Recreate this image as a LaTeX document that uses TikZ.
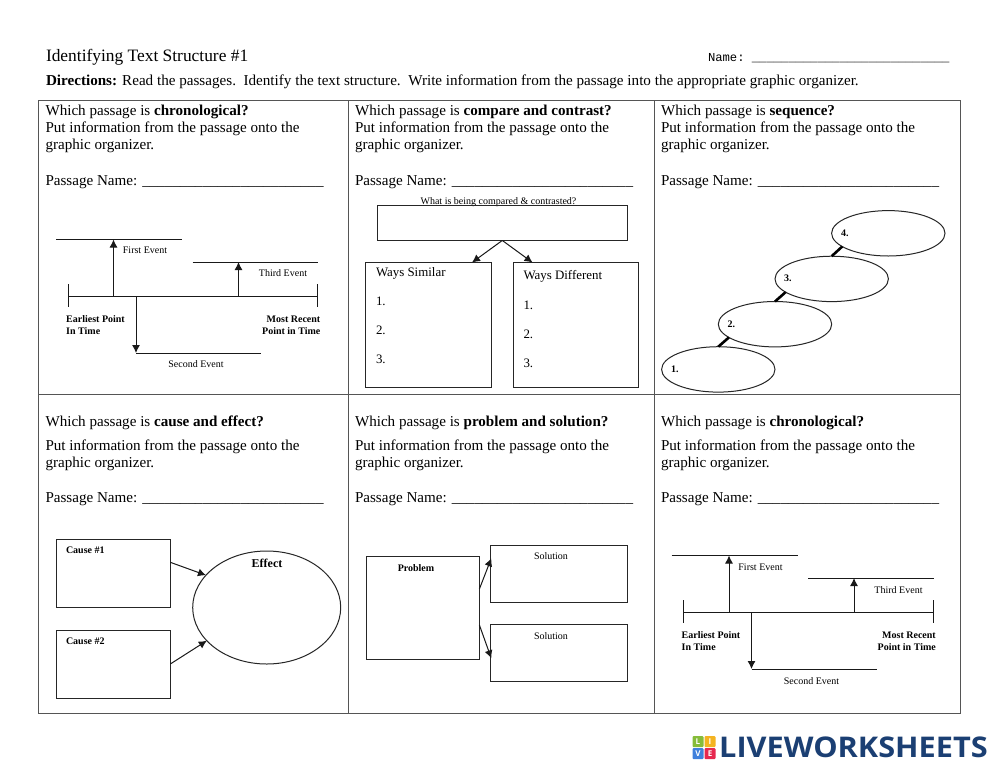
\documentclass[tikz,border=0pt]{standalone}
\usepackage{fontspec}
\setmainfont{Liberation Serif}
\setmonofont{Liberation Mono}
\newfontfamily\logofont{Open Sans}
\usetikzlibrary{arrows.meta,shapes.geometric}
\definecolor{logoblue}{HTML}{1B3F73}
\definecolor{gridgrey}{HTML}{555555}
\definecolor{lgreen}{HTML}{86BC3A}
\definecolor{lyellow}{HTML}{F4B321}
\definecolor{lblue}{HTML}{3F80DC}
\definecolor{lred}{HTML}{E6284F}
\newcommand{\fs}[1]{\fontsize{#1}{#1}\selectfont}
\newcommand{\pname}{Passage Name: \_\_\_\_\_\_\_\_\_\_\_\_\_\_\_\_\_\_\_\_\_\_\_\_}
\tikzset{
  lbl/.style={anchor=base west,inner sep=0pt,outer sep=0pt,font=\fs{15.1}},
  small/.style={anchor=base,inner sep=0pt,font=\fs{10}},
  smallb/.style={anchor=base,inner sep=0pt,font=\fs{10}\bfseries},
  boxlbl/.style={lbl,font=\fs{12.9}},
  gridline/.style={draw=gridgrey,line width=1pt},
  box/.style={draw=black!85,line width=1pt,inner sep=0pt,outer sep=0pt,fill=white},
  oval/.style={ellipse,draw=black!85,line width=1pt,inner sep=0pt,outer sep=0pt},
  line/.style={draw=black!90,line width=1pt},
  arr/.style={draw=black!90,line width=1pt,-{Latex[length=8pt,width=8pt]}},
  link/.style={draw=black,line width=2.6pt},
  logosq/.style={minimum size=11pt,inner sep=0pt,outer sep=0pt,text=white,font=\fs{8}\logofont\bfseries,rounded corners=1pt},
}
\newcommand{\timeline}[4]{%
\begin{scope}[shift={(#2,#3)},name prefix=#1-]
  \coordinate (mL) at (68,296); \coordinate (mR) at (317.5,296);
  \coordinate (tLa) at (68,284); \coordinate (tLb) at (68,307);
  \coordinate (tRa) at (317.5,284); \coordinate (tRb) at (317.5,307);
  \coordinate (aS) at (113.5,296); \coordinate (aE) at (113.5,239.5);
  \coordinate (fL) at (56,239.5); \coordinate (fR) at (182,239.5);
  \coordinate (cS) at (238.5,296); \coordinate (cE) at (238.5,262);
  \coordinate (hL) at (192.5,262); \coordinate (hR) at (318,262);
  \coordinate (bS) at (136,296); \coordinate (bE) at (136,353);
  \coordinate (sR) at (261,353);
  \draw[line] (mL) -- (mR);
  \draw[line] (tLa) -- (tLb);
  \draw[line] (tRa) -- (tRb);
  \draw[line] (fL) -- (fR);
  \draw[line] (hL) -- (hR);
  \draw[line] (bE) -- (sR);
  \draw[arr] (aS) -- (aE);
  \draw[arr] (cS) -- (cE);
  \draw[arr] (bS) -- (bE);
  \node[small] (first) at (145,253+#4) {First Event};
  \node[small] (third) at (283,276+#4) {Third Event};
  \node[small] (second) at (196,367.5+#4) {Second Event};
  \node[smallb,anchor=base west] (earlyA) at (66,322) {Earliest Point};
  \node[smallb,anchor=base west] (earlyB) at (66,334) {In Time};
  \node[smallb,anchor=base east] (recentA) at (320.5,322) {Most Recent};
  \node[smallb,anchor=base east] (recentB) at (320.5,334) {Point in Time};
\end{scope}}
\begin{document}
\begin{tikzpicture}[x=1pt,y=-1pt]
\useasboundingbox (0,0) rectangle (999,772);
\fill[white] (0,0) rectangle (999,772);
% header
\node[lbl,font=\fs{17.4}] (head) at (46,61.5) {Identifying Text Structure \#1};
\node[lbl,font=\fs{12.2}\ttfamily] (nameline) at (708,61) {Name: \_\_\_\_\_\_\_\_\_\_\_\_\_\_\_\_\_\_\_\_\_\_\_\_\_\_\_};
\node[lbl,font=\fs{15.13}] (direct) at (46,85.5) {\textbf{Directions:} Read the passages.\ \ Identify the text structure.\ \ Write information from the passage into the appropriate graphic organizer.};
% grid
\coordinate (gTL) at (38.5,100); \coordinate (gBR) at (960.5,713);
\draw[gridline] (gTL) rectangle (gBR);
\coordinate (v1a) at (348,100); \coordinate (v1b) at (348,713);
\coordinate (v2a) at (654.5,100); \coordinate (v2b) at (654.5,713);
\coordinate (h1a) at (38.5,394.5); \coordinate (h1b) at (960.5,394.5);
\draw[gridline] (v1a) -- (v1b);
\draw[gridline] (v2a) -- (v2b);
\draw[gridline] (h1a) -- (h1b);
% row 1 text
\node[lbl] (a1) at (45.5,115) {Which passage is \textbf{chronological?}};
\node[lbl] (a2) at (45.5,132) {Put information from the passage onto the};
\node[lbl] (a3) at (45.5,149.5) {graphic organizer.};
\node[lbl] (a4) at (45.5,185) {\pname};
\node[lbl] (b1) at (355,115) {Which passage is \textbf{compare and contrast?}};
\node[lbl] (b2) at (355,132) {Put information from the passage onto the};
\node[lbl] (b3) at (355,149.5) {graphic organizer.};
\node[lbl] (b4) at (355,185) {\pname};
\node[lbl] (c1) at (661,115) {Which passage is \textbf{sequence?}};
\node[lbl] (c2) at (661,132) {Put information from the passage onto the};
\node[lbl] (c3) at (661,149.5) {graphic organizer.};
\node[lbl] (c4) at (661,185) {\pname};
% row 2 text
\node[lbl] (d1) at (45.5,426) {Which passage is \textbf{cause and effect?}};
\node[lbl] (d2) at (45.5,450) {Put information from the passage onto the};
\node[lbl] (d3) at (45.5,467) {graphic organizer.};
\node[lbl] (d4) at (45.5,502) {\pname};
\node[lbl] (e1) at (355,426) {Which passage is \textbf{problem and solution?}};
\node[lbl] (e2) at (355,450) {Put information from the passage onto the};
\node[lbl] (e3) at (355,467) {graphic organizer.};
\node[lbl] (e4) at (355,502) {\pname};
\node[lbl] (f1) at (661,426) {Which passage is \textbf{chronological?}};
\node[lbl] (f2) at (661,450) {Put information from the passage onto the};
\node[lbl] (f3) at (661,467) {graphic organizer.};
\node[lbl] (f4) at (661,502) {\pname};
% timelines
\timeline{tla}{0}{0}{0}
\timeline{tlb}{615.5}{316}{1}
% compare and contrast
\node[small] (cmpq) at (498.5,204.5) {What is being compared \& contrasted?};
\node[box,fill=none,minimum width=250pt,minimum height=34.5pt] (cmp) at (502.3,223.2) {};
\node[box,minimum width=125.5pt,minimum height=125pt] (sim) at (428.7,325) {};
\node[box,minimum width=125.5pt,minimum height=125pt] (dif) at (576,325) {};
\coordinate (simT) at (472,262.5);
\coordinate (difT) at (532.5,262.5);
\draw[arr] (cmp.south) -- (simT);
\draw[arr] (cmp.south) -- (difT);
\node[boxlbl] (s0) at (376,276) {Ways Similar};
\node[boxlbl] (s1) at (376,305) {1.};
\node[boxlbl] (s2) at (376,334) {2.};
\node[boxlbl] (s3) at (376,363) {3.};
\node[boxlbl] (t0) at (523.5,279) {Ways Different};
\node[boxlbl] (t1) at (523.5,309) {1.};
\node[boxlbl] (t2) at (523.5,338) {2.};
\node[boxlbl] (t3) at (523.5,367) {3.};
% sequence
\node[oval,minimum width=113.4pt,minimum height=45.4pt] (o4) at (888.3,233.3) {};
\node[oval,minimum width=113.4pt,minimum height=45.4pt] (o3) at (831.7,278.9) {};
\node[oval,minimum width=113.4pt,minimum height=45.4pt] (o2) at (775,324.2) {};
\node[oval,minimum width=113.4pt,minimum height=45.4pt] (o1) at (718.3,369.4) {};
\draw[link] (o4.196) -- (o3.north);
\draw[link] (o3.196) -- (o2.north);
\draw[link] (o2.196) -- (o1.north);
\node[lbl,font=\fs{10}\bfseries] (n4) at (841,236.5) {4.};
\node[lbl,font=\fs{10}\bfseries] (n3) at (784,281.5) {3.};
\node[lbl,font=\fs{10}\bfseries] (n2) at (727.5,327.5) {2.};
\node[lbl,font=\fs{10}\bfseries] (n1) at (671,372.5) {1.};
% cause and effect
\node[box,minimum width=113.6pt,minimum height=68pt] (cz1) at (113.5,573.3) {};
\node[box,minimum width=113.6pt,minimum height=68pt] (cz2) at (113.5,664) {};
\node[oval,minimum width=148pt,minimum height=113pt] (eff) at (266.7,607.5) {};
\coordinate (cz1a) at (170.3,562.3);
\coordinate (cz2a) at (170.3,664);
\draw[arr] (cz1a) -- (eff.152);
\draw[arr] (cz2a) -- (eff.209);
\node[lbl,font=\fs{10}\bfseries] (cz1t) at (66,553.5) {Cause \#1};
\node[lbl,font=\fs{10}\bfseries] (cz2t) at (66,644.5) {Cause \#2};
\node[anchor=base,inner sep=0pt,font=\fs{12}\bfseries] (efft) at (267,567) {Effect};
% problem and solution
\node[box,minimum width=113.4pt,minimum height=102.6pt] (prob) at (422.7,608) {};
\node[box,minimum width=136.6pt,minimum height=57pt] (sol1) at (559,573.8) {};
\node[box,minimum width=136.6pt,minimum height=57pt] (sol2) at (559,653.2) {};
\coordinate (pa) at (479.4,589);
\coordinate (pb) at (479.4,625);
\coordinate (sa) at (491.3,558.3);
\coordinate (sb) at (491.3,658.3);
\draw[arr] (pa) -- (sa);
\draw[arr] (pb) -- (sb);
\node[smallb] (probt) at (416,571.5) {Problem};
\node[small] (sol1t) at (551,559.5) {Solution};
\node[small] (sol2t) at (551,639) {Solution};
% logo
\node[logosq,fill=lgreen,anchor=north west] (lgL) at (692.5,736) {L};
\node[logosq,fill=lyellow,anchor=north west] (lgI) at (704.5,736) {I};
\node[logosq,fill=lblue,anchor=north west] (lgV) at (692.5,748) {V};
\node[logosq,fill=lred,anchor=north west] (lgE) at (704.5,748) {E};
\node[anchor=base west,inner sep=0pt,text=logoblue,font=\fs{28.5}\logofont\bfseries] (logo) at (719,757.8) {\scalebox{1.077}[1]{LIVEWORKSHEETS}};
\end{tikzpicture}
\end{document}
